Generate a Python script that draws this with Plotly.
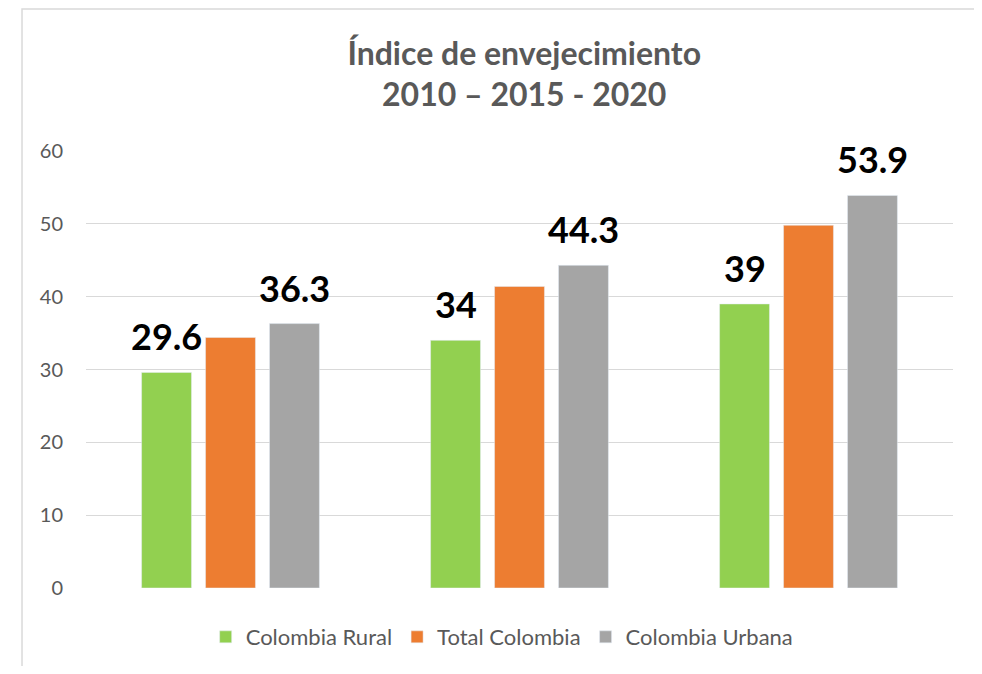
import plotly.graph_objects as go

# periods (no axis labels shown in the original)
periodos = ["2010", "2015", "2020"]

rural = [29.6, 34, 39]
total = [34.4, 41.4, 49.8]
urbana = [36.3, 44.3, 53.9]

series = ["Colombia Rural", "Total Colombia", "Colombia Urbana"]
colores = ["#92D050", "#ED7D31", "#A5A5A5"]

gris = "#595959"
font = "Lato"

fig = go.Figure()
fig.add_trace(go.Bar(x=periodos, y=rural, name=series[0], marker_color=colores[0]))
fig.add_trace(go.Bar(x=periodos, y=total, name=series[1], marker_color=colores[1]))
fig.add_trace(go.Bar(x=periodos, y=urbana, name=series[2], marker_color=colores[2]))

# data labels only on rural and urbana, above the bars
# (numeric-looking categories -> use the category index for annotations)
slot = 64  # px width of one bar slot inside a group
for i, (r, u) in enumerate(zip(rural, urbana)):
    for v, dx in [(r, -slot), (u, slot)]:
        fig.add_annotation(x=i, y=v, text="<b>%g</b>" % v, showarrow=False,
                           xshift=dx, yshift=12, yanchor="bottom",
                           font=dict(size=36, color="black", family=font))

# page body has an 8px margin, so the figure is a bit smaller than the window
fig.update_layout(
    width=974, height=658,
    paper_bgcolor="white", plot_bgcolor="white",
    font=dict(family=font, color=gris, size=17),
    title=dict(text="<b>Índice de envejecimiento<br>2010 – 2015 - 2020</b>",
               x=0.53, xanchor="center", y=0.914, yanchor="middle",
               font=dict(size=32, color=gris, family=font)),
    margin=dict(l=78, r=29, t=143, b=78),
    barmode="group", bargap=0.336, bargroupgap=0.22,
    showlegend=True,
    legend=dict(orientation="h", x=0.48, xanchor="center", yref="container", y=0.044,
                yanchor="middle", font=dict(size=22, color=gris), itemwidth=30,
                traceorder="normal"),
    shapes=[dict(type="rect", xref="paper", yref="paper",
                 x0=-0.0738, x1=1.031, y0=-0.4, y1=1.325,
                 line=dict(color="#d9d9d9", width=1.5), fillcolor="rgba(0,0,0,0)", layer="below")],
)
fig.update_xaxes(type="category", range=[-0.5, 2.5], showticklabels=False, showgrid=False,
                 zeroline=False, showline=False)
fig.update_yaxes(range=[0, 60], dtick=10, showgrid=True, gridcolor="#d9d9d9", gridwidth=1.3,
                 zeroline=False, showline=False, ticks="", ticklabelstandoff=22,
                 tickfont=dict(size=20, color=gris))

fig.write_html("out.html")
